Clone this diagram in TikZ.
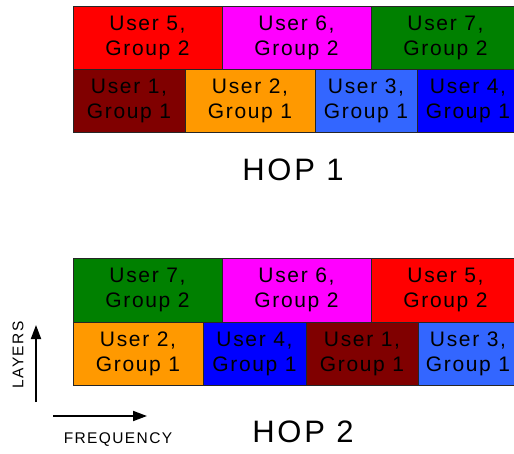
\documentclass[tikz,border=0pt]{standalone}
\usepackage{fontspec}
\setmainfont{Liberation Sans}[LetterSpace=9]
\newfontfamily\slotfont{Liberation Sans}[LetterSpace=8]
\usetikzlibrary{arrows.meta, positioning}

\definecolor{darkred}{HTML}{800000}
\definecolor{orangeu}{HTML}{FF9900}
\definecolor{skyblue}{HTML}{3366FF}
\definecolor{greenu}{HTML}{008000}
\definecolor{magentau}{HTML}{FF00FF}
\definecolor{redu}{HTML}{FF0000}
\definecolor{blueu}{HTML}{0000FF}

\begin{document}
\begin{tikzpicture}[
  x=1pt, y=1pt,
  node distance=0pt,
  slot/.style={rectangle, draw=black!85, line width=0.8pt, outer sep=0pt,
               inner sep=0pt, minimum height=63pt, align=center,
               font=\slotfont\fontsize{21}{25}\selectfont},
  hop/.style={font=\fontsize{31}{36}\selectfont},
  axislabel/.style={font=\fontsize{15.5}{18}\selectfont},
  axis/.style={-{Triangle[length=14pt, width=10pt]}, line width=1.8pt}
]
  \useasboundingbox (0,0) rectangle (514,-454);
  \clip (0,0) rectangle (514,-454);

  % Hop 1: second layer (group 2) on top, first layer (group 1) below
  \node[slot, fill=redu, minimum width=149pt, anchor=north west] (u5a) at (73,-6)
    {User 5,\\Group 2};
  \node[slot, fill=magentau, minimum width=149pt, right=of u5a] (u6a)
    {User 6,\\Group 2};
  \node[slot, fill=greenu, minimum width=149pt, right=of u6a] (u7a)
    {User 7,\\Group 2};

  \node[slot, fill=darkred, minimum width=112pt, anchor=north west] (u1a) at (u5a.south west)
    {User 1,\\Group 1};
  \node[slot, fill=orangeu, minimum width=130pt, right=of u1a] (u2a)
    {User 2,\\Group 1};
  \node[slot, fill=skyblue, minimum width=102pt, right=of u2a] (u3a)
    {User 3,\\Group 1};
  \node[slot, fill=blueu, minimum width=102pt, right=of u3a] (u4a)
    {User 4,\\Group 1};

  \node[hop] (hop1) at (293,-170) {HOP 1};

  % Hop 2: same users, hopped to other frequencies
  \node[slot, fill=greenu, minimum width=149pt, minimum height=64pt, anchor=north west] (u7b) at (73,-258)
    {User 7,\\Group 2};
  \node[slot, fill=magentau, minimum width=149pt, minimum height=64pt, right=of u7b] (u6b)
    {User 6,\\Group 2};
  \node[slot, fill=redu, minimum width=149pt, minimum height=64pt, right=of u6b] (u5b)
    {User 5,\\Group 2};

  \node[slot, fill=orangeu, minimum width=130pt, anchor=north west] (u2b) at (u7b.south west)
    {User 2,\\Group 1};
  \node[slot, fill=blueu, minimum width=103pt, right=of u2b] (u4b)
    {User 4,\\Group 1};
  \node[slot, fill=darkred, minimum width=112pt, right=of u4b] (u1b)
    {User 1,\\Group 1};
  \node[slot, fill=skyblue, minimum width=100pt, right=of u1b] (u3b)
    {User 3,\\Group 1};

  \node[hop] (hop2) at (303,-432) {HOP 2};

  % Axes
  \coordinate (lay0) at (36,-402);
  \coordinate (lay1) at (36,-325);
  \coordinate (freq0) at (53,-416);
  \coordinate (freq1) at (147,-416);
  \draw[axis] (lay0) -- (lay1);
  \draw[axis] (freq0) -- (freq1);
  \node[axislabel, rotate=90] (layers) at (18,-355) {LAYERS};
  \node[axislabel] (frequency) at (118,-440) {FREQUENCY};
\end{tikzpicture}
\end{document}
